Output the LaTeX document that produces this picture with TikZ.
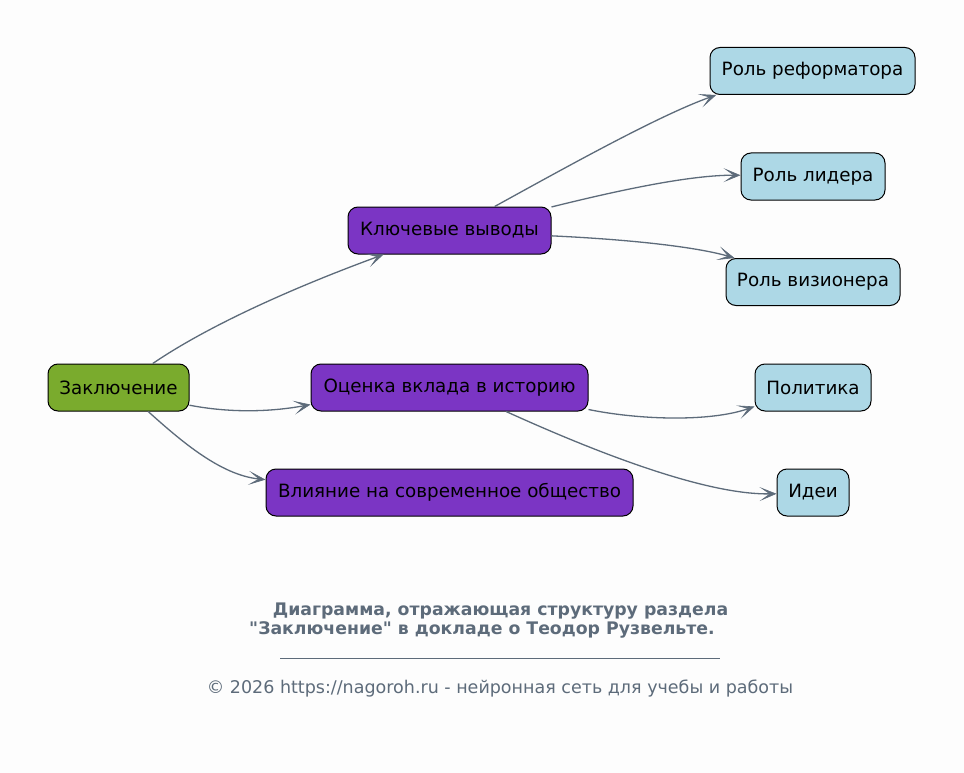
\documentclass[tikz,border=0pt]{standalone}
\usepackage{fontspec}
\setmainfont{DejaVu Sans}[Ligatures=TeXOff]
\usetikzlibrary{arrows.meta}
\definecolor{bg}{HTML}{FDFDFD}
\definecolor{rootgreen}{HTML}{7AAB2D}
\definecolor{midpurple}{HTML}{7B35C4}
\definecolor{leafblue}{HTML}{ADD8E6}
\definecolor{slate}{HTML}{5D6B7A}
\tikzset{
  box/.style={draw=black, line width=1pt, rounded corners=10pt, minimum height=47pt,
    inner sep=0pt, font=\fontsize{18.3}{22}\selectfont, text=black},
  rootbox/.style={box, fill=rootgreen},
  midbox/.style={box, fill=midpurple},
  leafbox/.style={box, fill=leafblue},
  edge/.style={draw=slate, line width=1.3pt,
    -{Stealth[length=17pt, width=14pt, inset=10pt, line width=0.6pt]}},
  captext/.style={text=slate, font=\bfseries\fontsize{17.3}{20}\selectfont},
  foottext/.style={text=slate, font=\fontsize{17.5}{20}\selectfont}
}
\begin{document}
\begin{tikzpicture}[x=1pt, y=-1pt]
\fill[bg] (0,0) rectangle (964,773);
\useasboundingbox (0,0) rectangle (964,773);

\node[rootbox, minimum width=141pt] (z) at (118.5,387.5) {Заключение};
\node[midbox, minimum width=203pt] (kv) at (449.5,230.5) {Ключевые выводы};
\node[midbox, minimum width=277pt] (oc) at (449.5,387.5) {Оценка вклада в историю};
\node[midbox, minimum width=367pt] (vl) at (449.5,492.5) {Влияние на современное общество};
\node[leafbox, minimum width=205pt] (rr) at (812.5,71) {Роль реформатора};
\node[leafbox, minimum width=144pt] (rl) at (813,176.5) {Роль лидера};
\node[leafbox, minimum width=174pt] (rv) at (813,282) {Роль визионера};
\node[leafbox, minimum width=116pt] (pol) at (813,387.5) {Политика};
\node[leafbox, minimum width=72pt] (id) at (813,492.5) {Идеи};

\draw[edge] (z.35) .. controls (190,338) and (260,300) .. (kv.200);
\draw[edge] (z.-14.7) .. controls (230,413) and (270,412) .. (oc.187.6);
\draw[edge] (z.-39.5) .. controls (180,440) and (220,475) .. (vl.176.4);

\draw[edge] (kv.28) .. controls (570,165) and (660,115) .. (rr.194);
\draw[edge] (kv.13.4) .. controls (620,190) and (690,175) .. (rl.179);
\draw[edge] (kv.-3) .. controls (640,240) and (700,248) .. (rv.163.7);

\draw[edge] (oc.-9.5) .. controls (640,420) and (710,422) .. (pol.198.6);
\draw[edge] (oc.-23.3) .. controls (580,445) and (700,495) .. (id.182);

\node[captext] (cap1) at (500.5,611) {Диаграмма, отражающая структуру раздела};
\node[captext] (cap2) at (482,630) {"Заключение" в докладе о Теодор Рузвельте.};
\coordinate (ruleL) at (280,658);
\coordinate (ruleR) at (720,658);
\draw[slate, line width=0.8pt] (ruleL) -- (ruleR);
\node[foottext] (foot) at (500,689) {© 2026 https://nagoroh.ru - нейронная сеть для учебы и работы};
\end{tikzpicture}
\end{document}
